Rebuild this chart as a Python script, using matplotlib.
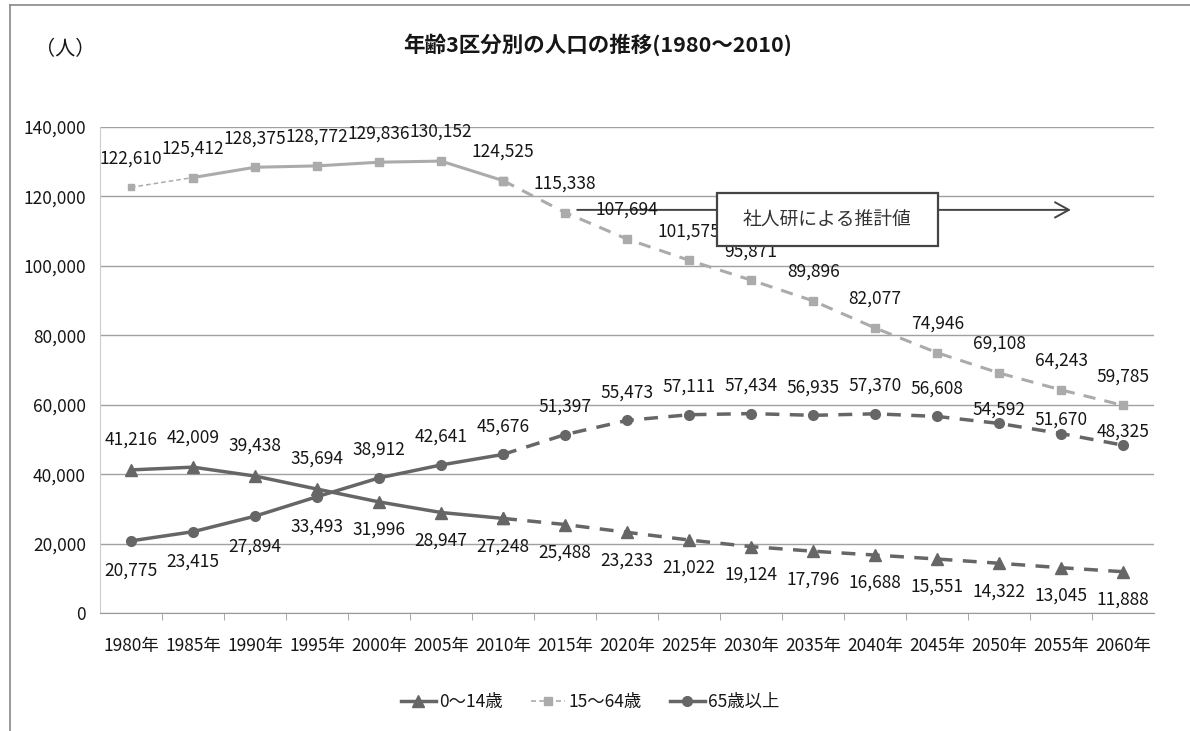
import numpy as np
import matplotlib
matplotlib.use("Agg")
import matplotlib.pyplot as plt
from matplotlib.lines import Line2D
from matplotlib.patches import Rectangle

plt.rcParams['font.family'] = ['Noto Sans CJK JP', 'DejaVu Sans']

years = [1980, 1985, 1990, 1995, 2000, 2005, 2010, 2015, 2020,
         2025, 2030, 2035, 2040, 2045, 2050, 2055, 2060]
year_labels = [f'{y}年' for y in years]

young = [41216, 42009, 39438, 35694, 31996, 28947, 27248, 25488, 23233,
         21022, 19124, 17796, 16688, 15551, 14322, 13045, 11888]
working = [122610, 125412, 128375, 128772, 129836, 130152, 124525, 115338, 107694,
           101575, 95871, 89896, 82077, 74946, 69108, 64243, 59785]
elderly = [20775, 23415, 27894, 33493, 38912, 42641, 45676, 51397, 55473,
           57111, 57434, 56935, 57370, 56608, 54592, 51670, 48325]

names = ['0～14歳', '15～64歳', '65歳以上']

dark = '#666666'
light = '#ababab'
txt = '#161616'
fs = 12.5

fig = plt.figure(figsize=(11.9, 7.31), dpi=100)
ax = fig.add_axes([0.084, 0.1614, 0.886, 0.665])
x = np.arange(len(years))
k = years.index(2010)

def draw(vals, color, marker, ms, lw, start=0):
    ax.plot(x[start:k + 1], vals[start:k + 1], color=color, lw=lw, marker=marker,
            ms=ms, zorder=3)
    ax.plot(x[k:], vals[k:], color=color, lw=lw, ls=(0, (4, 3)), marker=marker,
            ms=ms, zorder=3)

draw(young, dark, '^', 8, 2.5)
# 15-64: first segment thin dashed as in the source
ax.plot(x[:2], working[:2], color=light, lw=1.1, ls=(0, (3, 2)), marker='s',
        ms=5, zorder=3)
draw(working, light, 's', 6, 2.2, start=1)
draw(elderly, dark, 'o', 7, 2.5)

def label(i, v, dy):
    ax.annotate(f'{v:,}', (i, v), xytext=(0, dy), textcoords='offset pixels',
                ha='center', va='center', fontsize=fs, color=txt, zorder=5)

for i, v in enumerate(working):
    label(i, v, 29)
for i, v in enumerate(young):
    label(i, v, 30 if i < 4 else -28)
for i, v in enumerate(elderly):
    if i < 4:
        label(i, v, -30)
    elif i >= 14:
        label(i, v, 14)
    else:
        label(i, v, 28)

# projection note
ax.annotate('', xy=(15.2, 116100), xytext=(7.15, 116100),
            arrowprops=dict(arrowstyle='->,head_length=1.0,head_width=0.55',
                            lw=1.4, color='#444444'), zorder=4)
ax.add_patch(Rectangle((9.45, 105700), 3.56, 15300, facecolor='white',
                       edgecolor='#444444', lw=1.6, zorder=6))
ax.text(11.23, 113400, '社人研による推計値', ha='center', va='center',
        fontsize=13.5, color='#333333', zorder=7)

ax.set_xlim(-0.5, len(years) - 0.5)
ax.set_ylim(0, 140000)
ax.set_yticks(np.arange(0, 140001, 20000))
ax.set_yticklabels([f'{v:,}' for v in range(0, 140001, 20000)], fontsize=fs,
                   color=txt)
ax.set_xticks(x)
ax.set_xticklabels(year_labels, fontsize=fs, color=txt)
ax.set_xticks(x[:-1] + 0.5, minor=True)
ax.tick_params(axis='x', which='major', length=0, pad=17)
ax.tick_params(axis='x', which='minor', length=5, color='#999999')
ax.tick_params(axis='y', length=0, pad=10)
ax.grid(axis='y', color='#a0a0a0', lw=1.0)
ax.set_axisbelow(True)
for s in ['top', 'right']:
    ax.spines[s].set_visible(False)
ax.spines['left'].set_color('#cccccc')
ax.spines['bottom'].set_color('#999999')

handles = [
    Line2D([], [], color=dark, lw=2.5, marker='^', ms=8),
    Line2D([], [], color=light, lw=1.2, ls=(0, (3, 2)), marker='s', ms=6),
    Line2D([], [], color=dark, lw=2.5, marker='o', ms=7),
]
fig.legend(handles, names, loc='center', bbox_to_anchor=(0.496, 0.04), ncol=3,
           frameon=False, fontsize=fs, handlelength=2.0, handletextpad=0.2,
           columnspacing=1.6, labelcolor=txt)

fig.text(0.502, 1 - 45 / 731, '年齢3区分別の人口の推移(1980～2010)', ha='center',
         va='center', fontsize=15.5, fontweight='bold', color=txt)
fig.text(65 / 1190, 1 - 50 / 731, '（人）', ha='center', va='center', fontsize=14.5,
         color=txt)

# chart frame
fig.add_artist(Line2D([0.008, 0.008], [0, 0.993], color='#888888', lw=1.2,
                      transform=fig.transFigure))
fig.add_artist(Line2D([0.008, 1.0], [0.993, 0.993], color='#888888', lw=1.2,
                      transform=fig.transFigure))

fig.savefig('out.png', dpi=100)
